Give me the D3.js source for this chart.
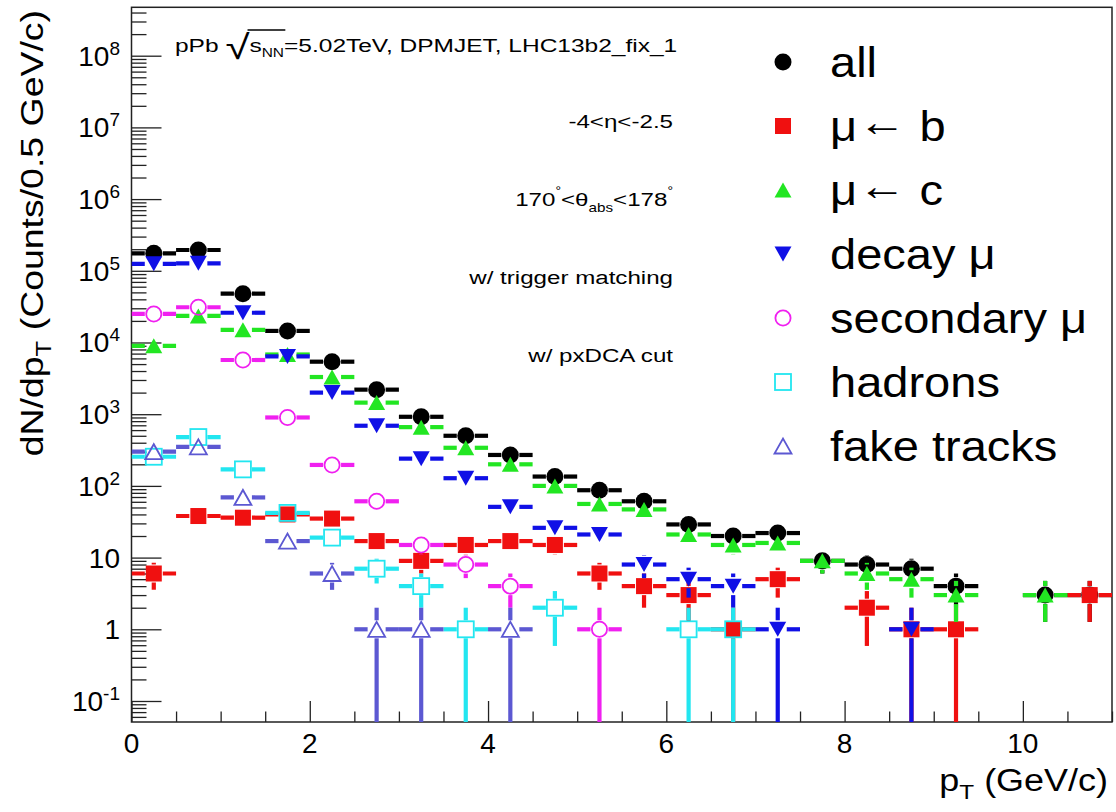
<!DOCTYPE html>
<html><head><meta charset="utf-8">
<script src="https://cdn.jsdelivr.net/npm/d3@7"></script>
<style>
body{margin:0;background:#fff}
svg{display:block}
text{font-family:"Liberation Sans", Arial, Helvetica, sans-serif; fill:#000}
</style>
</head><body>
<svg id="c" width="1116" height="812"></svg>
<script>
// ---------------- data ----------------
const pT = [0.25,0.75,1.25,1.75,2.25,2.75,3.25,3.75,4.25,4.75,5.25,5.75,6.25,6.75,7.25,7.75,8.25,8.75,9.25,9.75,10.25,10.75];
const binHalfWidth = 0.25;
const allV   = [175000,195000,48000,14500,5400,2200,920,500,270,135,87,61,29,20,22,9,8,7,4,null,3,3];
const bV     = [6,38,36,40,35,17,9,15,17,15,6,4,3,1,5,null,2,1,1,null,null,3];
const cV     = [9000,23500,15000,6800,3300,1450,660,340,200,100,56,47,21,15,16,9,6,5,3,null,3,null];
const decayV = [125000,127000,26000,6400,2000,690,240,128,51,26,21,8,5,4,1,null,null,1,null,null,null,null];
const secV   = [25000,31000,5700,900,196,61,15,8,4,null,1,null,null,null,null,null,null,null,null,null,null,null];
const hadV   = [255,480,170,42,19,7,4,1,null,2,null,null,1,1,null,null,null,null,null,null,null,null];
const fakeV  = [300,350,69,17,6,1,1,null,1,null,null,null,null,null,null,null,null,null,null,null,null,null];

const seriesLabels = [["all"],["μ","←"," b"],["μ","←"," c"],["decay μ"],["secondary μ"],["hadrons"],["fake tracks"]];
const seriesColors = ["#000000","#f01010","#22e622","#1010e6","#f020f0","#22e6f0","#5c58d2"];
const seriesMarkers = ["circle","square","tri","itri","ocircle","osquare","otri"];
const seriesValues = [allV,bV,cV,decayV,secV,hadV,fakeV];

const xTickMajor = [0,2,4,6,8,10];
const xTickLabels = ["0","2","4","6","8","10"];
const yDecades = [-1,0,1,2,3,4,5,6,7,8];

const annotations = ["-4<η<-2.5","170|<θ|abs|<178|","w/ trigger matching","w/ pxDCA cut"];

// ---------------- layout ----------------
const svg = d3.select("#c");
const X0 = 131.5, X1 = 1112, YB = 722, YT = 7.3;
const x = d3.scaleLinear().domain([0, 11]).range([X0, X1]);
const y = d3.scaleLog().domain([Math.pow(10,-1.293), Math.pow(10,8.675)]).range([YB, YT]);

svg.append("defs").append("clipPath").attr("id","plotclip")
  .append("rect").attr("x",X0).attr("y",YT).attr("width",X1-X0).attr("height",YB-YT);

// axes ticks (inward)
const yMajorVals = yDecades.map(d => Math.pow(10,d));
const yMinorVals = [];
for (let d = -2; d <= 8; d++) for (let k = 2; k <= 9; k++) {
  const v = k*Math.pow(10,d);
  if (v > y.domain()[0] && v < y.domain()[1]) yMinorVals.push(v);
}
const axStyle = g => { g.select(".domain").remove(); g.selectAll("line").attr("stroke","#222").attr("stroke-width",1.3); g.selectAll("text").remove(); };

svg.append("g").attr("transform",`translate(${X0},0)`)
  .call(d3.axisLeft(y).tickValues(yMajorVals).tickSizeInner(-30).tickSizeOuter(0).tickFormat(""))
  .call(axStyle);
svg.append("g").attr("transform",`translate(${X0},0)`)
  .call(d3.axisLeft(y).tickValues(yMinorVals).tickSizeInner(-15).tickSizeOuter(0).tickFormat(""))
  .call(axStyle);

const xMinorVals = d3.range(0, 11.01, 0.5).filter(v => !xTickMajor.includes(v));
svg.append("g").attr("transform",`translate(0,${YB})`)
  .call(d3.axisBottom(x).tickValues(xTickMajor).tickSizeInner(-21).tickSizeOuter(0).tickFormat(""))
  .call(axStyle);
svg.append("g").attr("transform",`translate(0,${YB})`)
  .call(d3.axisBottom(x).tickValues(xMinorVals).tickSizeInner(-10.5).tickSizeOuter(0).tickFormat(""))
  .call(axStyle);

// frame
svg.append("rect").attr("x",X0).attr("y",YT).attr("width",X1-X0).attr("height",YB-YT)
  .attr("fill","none").attr("stroke","#222").attr("stroke-width",1.5);

// x tick labels
xTickMajor.forEach((v,i) => {
  svg.append("text").attr("x",x(v)).attr("y",753).attr("text-anchor","middle")
    .attr("font-size",28).text(xTickLabels[i]);
});
// y tick labels
yDecades.forEach(d => {
  const t = svg.append("text").attr("x",120).attr("y",y(Math.pow(10,d))+10)
    .attr("text-anchor","end").attr("font-size",28);
  if (d === 0) t.text("1");
  else if (d === 1) t.text("10");
  else {
    t.append("tspan").text("10");
    t.append("tspan").attr("font-size",19).attr("dy",-11).text(String(d));
  }
});

// helper for horizontally stretched text
function sText(x0, y0, size, sx, anchor, rot) {
  const g = svg.append("g").attr("transform",`translate(${x0},${y0}) rotate(${rot||0}) scale(${sx},1)`);
  const t = g.append("text").attr("x",0).attr("y",0).attr("font-size",size).attr("text-anchor",anchor||"start");
  return {g, t};
}

// axis titles
{
  const {t} = sText(43, 10, 32, 1.17, "end", -90);
  t.append("tspan").text("dN/dp");
  t.append("tspan").attr("font-size",22).attr("dy",8).text("T");
  t.append("tspan").attr("dy",-8).text(" (Counts/0.5 GeV/c)");
}
{
  const {t} = sText(1108, 791, 31, 1.16, "end", 0);
  t.append("tspan").text("p");
  t.append("tspan").attr("font-size",21).attr("dy",8).text("T");
  t.append("tspan").attr("dy",-8).text(" (GeV/c)");
}

// annotation line 1 with sqrt
{
  const {g, t} = sText(175, 52, 19, 1.29, "start", 0);
  t.append("tspan").text("pPb ");
  t.append("tspan").attr("font-size",34).attr("dy",7).attr("font-weight","300").text("√");
  t.append("tspan").attr("dy",-7).text("s");
  t.append("tspan").attr("font-size",12).attr("dy",5).text("NN");
  t.append("tspan").attr("dy",-5).text("=5.02TeV, DPMJET, LHC13b2_fix_1");
  const n = t.node();
  const eS = n.getExtentOfChar(4), eE = n.getExtentOfChar(7);
  g.append("line").attr("x1",eS.x+eS.width-1.5).attr("x2",eE.x+eE.width+1)
    .attr("y1",-22).attr("y2",-22).attr("stroke","#000").attr("stroke-width",1.3);
}
// other annotations, right-aligned
const annY = [128, 206, 284, 362];
annotations.forEach((s,i) => {
  const {t} = sText(673, annY[i], 19, 1.27, "end", 0);
  if (s.includes("|")) {
    const p = s.split("|");
    t.append("tspan").text(p[0]);
    t.append("tspan").attr("font-size",11).attr("dy",-12).text("°");
    t.append("tspan").attr("dy",12).text(p[1]);
    t.append("tspan").attr("font-size",12).attr("dy",6).text(p[2]);
    t.append("tspan").attr("dy",-6).text(p[3]);
    t.append("tspan").attr("font-size",11).attr("dy",-12).text("°");
  } else t.text(s);
});

// markers
function marker(g, type, cx, cy, color) {
  const r = 8.5, h = 8, tw = 8.5, th = 7.5;
  const filled = !type.startsWith("o");
  let el;
  if (type === "circle" || type === "ocircle")
    el = g.append("circle").attr("cx",cx).attr("cy",cy).attr("r", filled ? r : r-0.9);
  else if (type === "square" || type === "osquare")
    el = g.append("rect").attr("x",cx-h).attr("y",cy-h).attr("width",2*h).attr("height",2*h);
  else if (type === "tri" || type === "otri")
    el = g.append("path").attr("d",`M${cx-tw},${cy+th}L${cx+tw},${cy+th}L${cx},${cy-th}Z`);
  else
    el = g.append("path").attr("d",`M${cx-tw},${cy-th}L${cx+tw},${cy-th}L${cx},${cy+th}Z`);
  if (filled) el.attr("fill",color);
  else el.attr("fill","none").attr("stroke",color).attr("stroke-width",1.8);
}

const plot = svg.append("g").attr("clip-path","url(#plotclip)");
const gap = 9;
seriesValues.forEach((vals, si) => {
  const col = seriesColors[si];
  const g = plot.append("g");
  const pts = pT.map((p,i) => ({p, v: vals[i]})).filter(d => d.v != null);
  // error bars
  pts.forEach(d => {
    const cx = x(d.p), cy = y(d.v);
    const xl = x(d.p - binHalfWidth), xr = x(d.p + binHalfWidth);
    const seg = (x1,y1,x2,y2) => g.append("line").attr("x1",x1).attr("y1",y1).attr("x2",x2).attr("y2",y2)
      .attr("stroke",col).attr("stroke-width",4.2);
    seg(xl, cy, cx-gap, cy);
    seg(cx+gap, cy, xr, cy);
    const err = Math.sqrt(d.v);
    const lo = d.v - err, hi = d.v + err;
    const yLo = lo > 0 ? y(lo) : YB + 10;
    const yHi = y(hi);
    if (yLo > cy + gap) seg(cx, cy+gap, cx, yLo);
    if (yHi < cy - gap) seg(cx, yHi, cx, cy-gap);
  });
  pts.forEach(d => marker(g, seriesMarkers[si], x(d.p), y(d.v), col));
});

// legend
const legY0 = 62, legStep = 64;
seriesLabels.forEach((parts, i) => {
  const ly = legY0 + i*legStep;
  marker(svg, seriesMarkers[i], 783, ly, seriesColors[i]);
  const {t} = sText(830, ly + 15, 42, 1.12, "start", 0);
  let shifted = false;
  parts.forEach(p => {
    const ts = t.append("tspan").text(p);
    if (p === "←") {
      ts.attr("dx",1).attr("dy",-5).attr("textLength",43).attr("lengthAdjust","spacingAndGlyphs");
      shifted = true;
    } else if (shifted) { ts.attr("dy",5); shifted = false; }
  });
});
</script>
</body></html>
